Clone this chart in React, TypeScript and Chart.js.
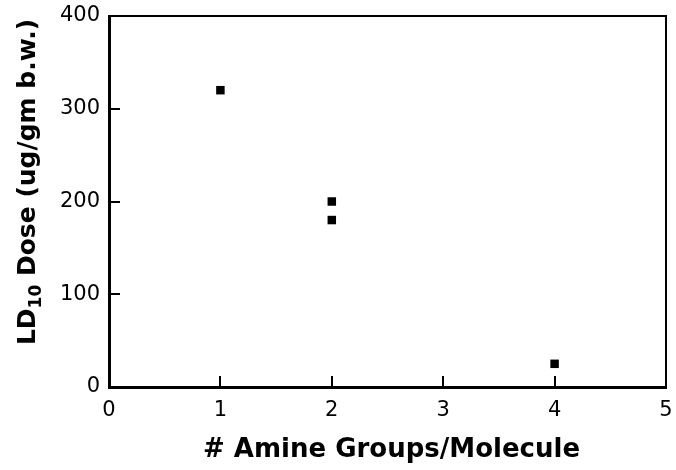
import React, { useEffect, useRef } from "react";
import { Chart, registerables } from "chart.js";

Chart.register(...registerables);

const amineGroups = [1, 2, 2, 4];
const ld10Dose = [320, 200, 180, 25];
const xTicks = [0, 1, 2, 3, 4, 5];
const yTicks = [0, 100, 200, 300, 400];
const xTitle = "# Amine Groups/Molecule";
const yTitleMain = "LD";
const yTitleSub = "10";
const yTitleRest = " Dose (ug/gm b.w.)";

const TICK_FONT = "'DejaVu Sans', sans-serif";
const TITLE_FONT = "bold 26px 'DejaVu Sans', sans-serif";
const Y_TITLE_FONT = "bold 25px 'DejaVu Sans', sans-serif";
const Y_SUB_FONT = "bold 17px 'DejaVu Sans', sans-serif";

const frameAndTicks = {
  id: "frameAndTicks",
  afterDraw(chart: any) {
    const { ctx, chartArea } = chart;
    const xs = chart.scales.x;
    const ys = chart.scales.y;
    const { left, right, top, bottom } = chartArea;
    ctx.save();
    ctx.fillStyle = "#000";
    // frame
    ctx.fillRect(left - 1, top - 1, right - left + 2, 2);
    ctx.fillRect(left - 1, bottom - 1, right - left + 2, 3);
    ctx.fillRect(left - 1, top - 1, 3, bottom - top + 2);
    ctx.fillRect(right - 1, top - 1, 2, bottom - top + 2);
    // inward tick marks
    for (const v of xTicks) {
      const px = Math.round(xs.getPixelForValue(v));
      ctx.fillRect(px - 1, bottom - 11, 2, 11);
    }
    for (const v of yTicks) {
      const py = Math.round(ys.getPixelForValue(v));
      ctx.fillRect(left, py - 1, 11, 2);
    }
    // x title
    ctx.font = TITLE_FONT;
    ctx.textAlign = "center";
    ctx.textBaseline = "alphabetic";
    ctx.fillText(xTitle, (left + right) / 2 + 4, 457);
    // y title with subscript
    ctx.translate(35, 182);
    ctx.rotate(-Math.PI / 2);
    ctx.textAlign = "left";
    ctx.font = Y_TITLE_FONT;
    const w1 = ctx.measureText(yTitleMain).width;
    const w3 = ctx.measureText(yTitleRest).width;
    ctx.font = Y_SUB_FONT;
    const w2 = ctx.measureText(yTitleSub).width;
    let x0 = -(w1 + w2 + w3) / 2;
    ctx.font = Y_TITLE_FONT;
    ctx.fillText(yTitleMain, x0, 0);
    x0 += w1;
    ctx.font = Y_SUB_FONT;
    ctx.fillText(yTitleSub, x0, 6);
    x0 += w2;
    ctx.font = Y_TITLE_FONT;
    ctx.fillText(yTitleRest, x0, 0);
    ctx.restore();
  },
};

export default function App() {
  const ref = useRef<HTMLCanvasElement>(null);
  useEffect(() => {
    document.body.style.margin = "0";
    const canvas = ref.current!;
    const chart = new Chart(canvas, {
      type: "scatter",
      data: {
        datasets: [
          {
            data: amineGroups.map((x, i) => ({ x, y: ld10Dose[i] })),
            pointStyle: "rect",
            pointRadius: 6,
            pointHoverRadius: 6,
            backgroundColor: "#000",
            borderColor: "#000",
            borderWidth: 0,
          },
        ],
      },
      options: {
        animation: false,
        responsive: false,
        devicePixelRatio: 1,
        layout: { padding: { top: 16, right: 10, left: 0, bottom: 0 } },
        plugins: { legend: { display: false }, tooltip: { enabled: false } },
        scales: {
          x: {
            type: "linear",
            min: 0,
            max: 5,
            afterBuildTicks: (s: any) => {
              s.ticks = xTicks.map((v) => ({ value: v }));
            },
            afterFit: (s: any) => {
              s.height = 83;
              s.paddingLeft = 0;
              s.paddingRight = 0;
              s.paddingTop = 0;
              s.paddingBottom = 0;
            },
            grid: { display: false, drawTicks: false },
            border: { display: false },
            ticks: {
              color: "#000",
              padding: 11,
              maxRotation: 0,
              font: { family: TICK_FONT, size: 21 },
            },
          },
          y: {
            type: "linear",
            min: 0,
            max: 400,
            afterBuildTicks: (s: any) => {
              s.ticks = yTicks.map((v) => ({ value: v }));
            },
            afterFit: (s: any) => {
              s.width = 109;
              s.paddingLeft = 0;
              s.paddingRight = 0;
              s.paddingTop = 0;
              s.paddingBottom = 0;
            },
            grid: { display: false, drawTicks: false },
            border: { display: false },
            ticks: {
              color: "#000",
              padding: 9,
              font: { family: TICK_FONT, size: 21 },
            },
          },
        },
      },
      plugins: [frameAndTicks],
    });
    return () => chart.destroy();
  }, []);
  return (
    <div style={{ width: 676, height: 470, background: "#fff" }}>
      <canvas ref={ref} width={676} height={470} />
    </div>
  );
}
